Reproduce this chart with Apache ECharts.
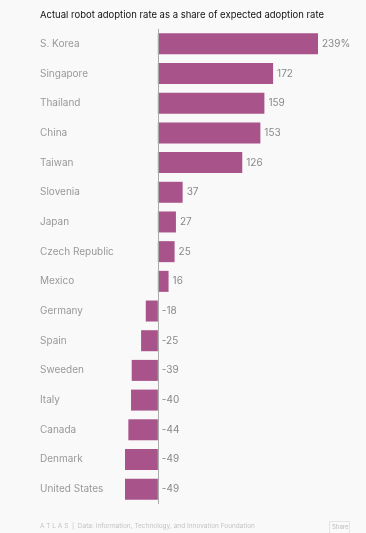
<!DOCTYPE html>
<html><head><meta charset="utf-8">
<script src="https://cdn.jsdelivr.net/npm/echarts@6/dist/echarts.min.js"></script>
<style>html,body{margin:0;padding:0;background:#f9f9f9;}#c{width:366px;height:533px;}</style>
</head><body><div id="c"></div>
<script>
const categories = ["S. Korea","Singapore","Thailand","China","Taiwan","Slovenia","Japan","Czech Republic","Mexico","Germany","Spain","Sweeden","Italy","Canada","Denmark","United States"];
const values = [239,172,159,153,126,37,27,25,16,-18,-25,-39,-40,-44,-49,-49];
const titleText = "Actual robot adoption rate as a share of expected adoption rate";
const footerText = "A T L A S  |  Data: Information, Technology, and Innovation Foundation";

const chart = echarts.init(document.getElementById('c'), null, {renderer:'canvas'});
chart.setOption({
  backgroundColor:'#f9f9f9',
  animation:false,
  title:{text:titleText,left:40,top:10,padding:0,textStyle:{fontFamily:'Inter, sans-serif',fontSize:9.5,fontWeight:'normal',color:'#111'}},
  graphic:[
    {type:'text',left:40,top:523,style:{text:footerText,fontFamily:'Inter, sans-serif',fontSize:6.5,fill:'#c4c4c4'}},
    {type:'rect',left:329,top:521,shape:{width:20,height:12},style:{fill:'#fafafa',stroke:'#e4e4e4',lineWidth:1}},
    {type:'text',left:332,top:524,style:{text:'Share',fontFamily:'Inter, sans-serif',fontSize:6,fill:'#bbb'}}
  ],
  grid:{left:125,width:193,top:29,height:475,containLabel:false},
  xAxis:{type:'value',min:-49,max:239,show:false},
  yAxis:{type:'category',data:categories,inverse:true,
    axisLine:{show:false},axisTick:{show:false},
    axisLabel:{align:'left',margin:85,color:'#999',fontFamily:'Inter, sans-serif',fontSize:10}},
  series:[{type:'bar',data:values,barWidth:21,
    itemStyle:{color:'#a8538a'},
    label:{show:true,position:'right',distance:4,color:'#888',fontFamily:'Inter, sans-serif',fontSize:10,
      formatter:p=>p.dataIndex===0?p.value+'%':String(p.value)},
    markLine:{silent:true,symbol:'none',label:{show:false},lineStyle:{color:'#aaa',type:'solid',width:1},data:[{xAxis:0}]}
  }]
});
</script></body></html>
